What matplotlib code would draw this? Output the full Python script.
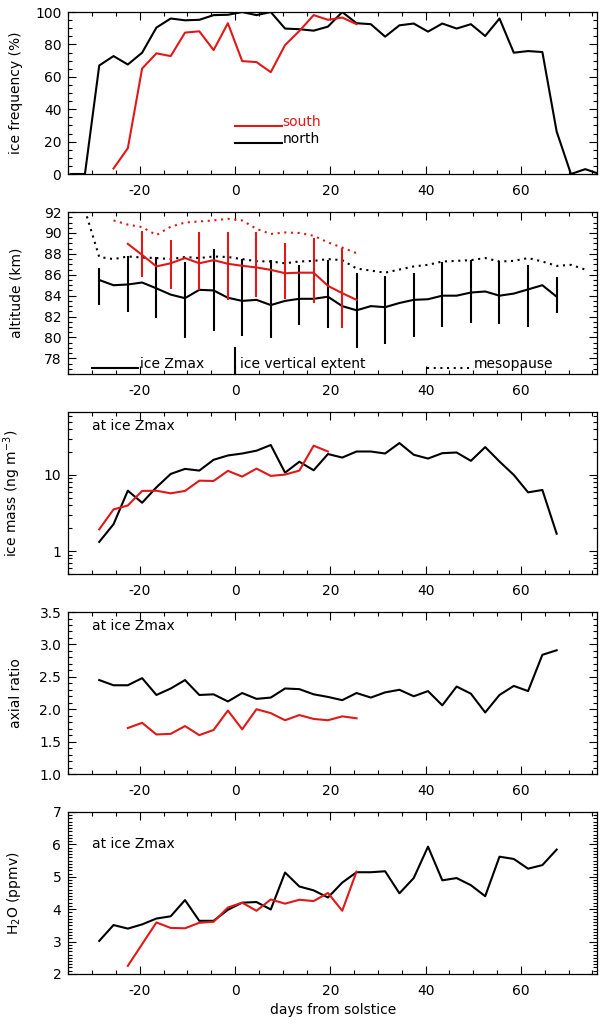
import matplotlib
matplotlib.use("Agg")
import matplotlib.pyplot as plt
from matplotlib.ticker import MultipleLocator, FixedLocator, LogLocator, NullFormatter, FormatStrFormatter

plt.rcParams["font.family"] = ["DejaVu Sans"]
plt.rcParams["axes.unicode_minus"] = False
plt.rcParams["mathtext.default"] = "regular"

RED = "#e01818"

# --- ice frequency ---
north_freq_days = [-34.5, -31.5, -28.5, -25.5, -22.5, -19.5, -16.5, -13.5, -10.5, -7.5, -4.5, -1.5,
                   1.5, 4.5, 7.5, 10.5, 13.5, 16.5, 19.5, 22.5, 25.5, 28.5, 31.5, 34.5, 37.5, 40.5,
                   43.5, 46.5, 49.5, 52.5, 55.5, 58.5, 61.5, 64.5, 67.5, 70.5, 73.5, 76.5]
north_freq = [0, 0, 67.0, 72.8, 67.6, 74.9, 90.4, 96.0, 94.9, 95.2, 98.1, 98.3,
              100, 98.1, 100, 89.8, 89.4, 88.5, 91.0, 100, 93.1, 92.5, 84.8, 91.8, 92.9, 87.9,
              92.9, 89.8, 92.5, 85.2, 96.0, 74.9, 75.9, 75.3, 26.2, 0, 3.0, 0]
south_freq_days = [-25.5, -22.5, -19.5, -16.5, -13.5, -10.5, -7.5, -4.5, -1.5, 1.5, 4.5, 7.5,
                   10.5, 13.5, 16.5, 19.5, 22.5, 25.5]
south_freq = [3.4, 15.9, 65.1, 74.5, 72.8, 87.3, 88.1, 76.5, 93.1, 69.7, 69.1, 62.9,
              79.6, 88.3, 98.1, 95.2, 96.6, 92.5]

# --- common day grids ---
north_days = [-28.5, -25.5, -22.5, -19.5, -16.5, -13.5, -10.5, -7.5, -4.5, -1.5, 1.5, 4.5,
              7.5, 10.5, 13.5, 16.5, 19.5, 22.5, 25.5, 28.5, 31.5, 34.5, 37.5, 40.5, 43.5,
              46.5, 49.5, 52.5, 55.5, 58.5, 61.5, 64.5, 67.5]
south_days = [-22.5, -19.5, -16.5, -13.5, -10.5, -7.5, -4.5, -1.5, 1.5, 4.5, 7.5, 10.5,
              13.5, 16.5, 19.5, 22.5, 25.5]

# --- altitude ---
north_zmax = [85.5, 85.0, 85.07, 85.26, 84.7, 84.1, 83.76, 84.56, 84.5, 83.8, 83.5, 83.6,
              83.1, 83.5, 83.7, 83.7, 83.9, 83.0, 82.6, 83.0, 82.9, 83.3, 83.6, 83.66, 84.0,
              84.0, 84.3, 84.4, 84.0, 84.2, 84.6, 85.0, 83.9]
north_bar_days = [-28.5, -22.5, -16.5, -10.5, -4.5, 1.5, 7.5, 13.5, 19.5, 25.5, 31.5, 37.5,
                  43.5, 49.5, 55.5, 61.5, 67.5]
north_bar_top = [86.63, 87.8, 87.7, 87.27, 88.45, 87.5, 87.43, 86.95, 87.43, 86.2, 85.9, 86.2,
                 87.27, 87.43, 87.34, 86.95, 85.83]
north_bar_bot = [83.12, 82.48, 81.84, 79.92, 80.66, 80.15, 79.92, 81.2, 80.95, 79.03, 79.38, 80.08,
                 81.04, 81.36, 81.27, 80.98, 82.32]
north_meso_days = [-31.5, -28.5, -25.5, -22.5, -19.5, -16.5, -13.5, -10.5, -7.5, -4.5, -1.5, 1.5,
                   4.5, 7.5, 10.5, 13.5, 16.5, 19.5, 22.5, 25.5, 28.5, 31.5, 34.5, 37.5, 40.5,
                   43.5, 46.5, 49.5, 52.5, 55.5, 58.5, 61.5, 64.5, 67.5, 70.5, 73.5]
north_meso = [92.2, 87.7, 87.5, 87.75, 87.65, 87.6, 87.5, 87.7, 87.6, 87.75, 87.7, 87.5,
              87.3, 87.27, 87.1, 87.27, 87.33, 87.5, 87.4, 86.6, 86.4, 86.2, 86.5, 86.8, 86.95,
              87.27, 87.33, 87.4, 87.6, 87.27, 87.33, 87.6, 87.27, 86.85, 86.95, 86.5]
south_zmax = [88.96, 87.9, 86.8, 87.1, 87.6, 87.1, 87.4, 87.05, 86.86, 86.7, 86.47, 86.15,
              86.2, 86.2, 84.94, 84.24, 83.6]
south_bar_days = [-19.5, -13.5, -7.5, -1.5, 4.5, 10.5, 16.5, 22.5]
south_bar_top = [90.15, 89.35, 90.1, 90.1, 90.1, 89.03, 89.5, 88.55]
south_bar_bot = [85.77, 84.62, 84.56, 83.6, 83.9, 83.7, 83.34, 80.88]
south_meso_days = [-25.5, -22.5, -19.5, -16.5, -13.5, -10.5, -7.5, -4.5, -1.5, 1.5, 4.5, 7.5,
                   10.5, 13.5, 16.5, 19.5, 22.5, 25.5]
south_meso = [91.2, 90.8, 90.56, 89.8, 90.6, 91.0, 91.1, 91.2, 91.36, 91.2, 90.4, 89.9,
              90.05, 90.0, 89.73, 89.1, 88.6, 88.07]

# --- ice mass ---
north_mass = [1.32, 2.25, 6.21, 4.31, 6.87, 10.3, 12.0, 11.4, 15.8, 18.0, 19.1, 20.8,
              24.7, 10.7, 14.9, 11.5, 18.8, 16.9, 20.3, 20.3, 19.1, 26.2, 18.4, 16.4, 19.3,
              19.7, 15.3, 23.2, 15.0, 10.0, 5.9, 6.34, 1.69]
south_mass_days = [-28.5, -25.5, -22.5, -19.5, -16.5, -13.5, -10.5, -7.5, -4.5, -1.5, 1.5, 4.5,
                   7.5, 10.5, 13.5, 16.5, 19.5]
south_mass = [1.93, 3.52, 3.97, 6.16, 6.2, 5.73, 6.16, 8.4, 8.33, 11.3, 9.5, 12.1,
              9.7, 10.1, 11.4, 24.2, 20.3]

# --- axial ratio ---
north_axial = [2.45, 2.37, 2.37, 2.48, 2.22, 2.32, 2.45, 2.22, 2.23, 2.12, 2.25, 2.16,
               2.18, 2.32, 2.31, 2.23, 2.19, 2.14, 2.25, 2.18, 2.26, 2.30, 2.20, 2.28, 2.06,
               2.35, 2.24, 1.95, 2.22, 2.36, 2.28, 2.84, 2.91]
south_axial = [1.71, 1.79, 1.61, 1.62, 1.74, 1.60, 1.68, 1.98, 1.69, 2.00, 1.94, 1.83,
               1.91, 1.85, 1.83, 1.89, 1.86]

# --- H2O ---
north_h2o = [3.02, 3.51, 3.40, 3.53, 3.71, 3.78, 4.28, 3.64, 3.64, 3.98, 4.20, 4.22,
             3.99, 5.13, 4.70, 4.58, 4.36, 4.82, 5.14, 5.14, 5.17, 4.49, 4.96, 5.93, 4.89,
             4.96, 4.74, 4.40, 5.62, 5.55, 5.25, 5.36, 5.84]
south_h2o_days = [-22.5, -16.5, -13.5, -10.5, -7.5, -4.5, -1.5, 1.5, 4.5, 7.5, 10.5, 13.5,
                  16.5, 19.5, 22.5, 25.5]
south_h2o = [2.25, 3.59, 3.42, 3.41, 3.58, 3.61, 4.05, 4.20, 3.95, 4.30, 4.17, 4.29,
             4.25, 4.50, 3.95, 5.16]

LW = 1.5
DOT = (0, (1, 2.2))
FS = 10

fig = plt.figure(figsize=(6.15, 10.29), dpi=100)
left, width, height = 0.111, 0.860, 0.1574
bottoms = [0.8309, 0.6365, 0.4422, 0.2478, 0.0535]
axes = [fig.add_axes([left, b, width, height]) for b in bottoms]


def style(ax):
    ax.set_xlim(-35, 76)
    ax.xaxis.set_major_locator(MultipleLocator(20))
    ax.xaxis.set_minor_locator(MultipleLocator(5))
    ax.tick_params(which="both", direction="in", top=True, right=True, labelsize=FS)
    ax.tick_params(which="major", length=6, width=0.8)
    ax.tick_params(which="minor", length=3, width=0.8)
    ax.tick_params(axis="x", pad=7)
    ax.tick_params(axis="y", pad=5)
    for sp in ax.spines.values():
        sp.set_linewidth(0.9)
    ax.yaxis.set_label_coords(-0.085, 0.5)


# panel 1: ice frequency
ax = axes[0]
ax.plot(north_freq_days, north_freq, color="black", lw=LW)
ax.plot(south_freq_days, south_freq, color=RED, lw=LW)
ax.set_ylim(0, 100)
ax.yaxis.set_major_locator(MultipleLocator(20))
ax.yaxis.set_minor_locator(MultipleLocator(5))
ax.plot([0, 9.8], [29.5, 29.5], color=RED, lw=LW)
ax.text(10, 29.5, "south", color=RED, fontsize=FS, va="baseline")
ax.plot([0, 9.8], [19.3, 19.3], color="black", lw=LW)
ax.text(10, 19.3, "north", color="black", fontsize=FS, va="baseline")
ax.set_ylabel("ice frequency (%)", fontsize=FS)
style(ax)

# panel 2: altitude
ax = axes[1]
ax.plot(north_meso_days, north_meso, color="black", lw=LW, linestyle=DOT)
ax.vlines(north_bar_days, north_bar_bot, north_bar_top, color="black", lw=LW)
ax.plot(north_days, north_zmax, color="black", lw=LW)
ax.plot(south_meso_days, south_meso, color=RED, lw=LW, linestyle=DOT)
ax.vlines(south_bar_days, south_bar_bot, south_bar_top, color=RED, lw=LW)
ax.plot(south_days, south_zmax, color=RED, lw=LW)
ax.set_ylim(76.5, 92)
ax.yaxis.set_major_locator(FixedLocator([78, 80, 82, 84, 86, 88, 90, 92]))
ax.yaxis.set_minor_locator(MultipleLocator(0.5))
ax.plot([-30, -20.3], [77.05, 77.05], color="black", lw=LW)
ax.text(-20.0, 77.05, "ice Zmax", fontsize=FS, va="baseline")
ax.plot([0, 0], [76.5, 78.95], color="black", lw=LW)
ax.text(1.0, 77.05, "ice vertical extent", fontsize=FS, va="baseline")
ax.plot([40.2, 49.5], [77.05, 77.05], color="black", lw=LW, linestyle=DOT)
ax.text(50.0, 77.05, "mesopause", fontsize=FS, va="baseline")
ax.set_ylabel("altitude (km)", fontsize=FS)
style(ax)

# panel 3: ice mass
ax = axes[2]
ax.plot(north_days, north_mass, color="black", lw=LW)
ax.plot(south_mass_days, south_mass, color=RED, lw=LW)
ax.set_yscale("log")
ax.set_ylim(0.5, 67)
ax.yaxis.set_major_locator(FixedLocator([1, 10]))
ax.yaxis.set_major_formatter(FormatStrFormatter("%g"))
ax.yaxis.set_minor_locator(LogLocator(base=10, subs=(2, 3, 4, 5, 6, 7, 8, 9)))
ax.yaxis.set_minor_formatter(NullFormatter())
ax.text(0.045, 0.915, "at ice Zmax", transform=ax.transAxes, fontsize=FS, va="center")
ax.set_ylabel("ice mass (ng m$^{-3}$)", fontsize=FS)
style(ax)

# panel 4: axial ratio
ax = axes[3]
ax.plot(north_days, north_axial, color="black", lw=LW)
ax.plot(south_days, south_axial, color=RED, lw=LW)
ax.set_ylim(1.0, 3.5)
ax.yaxis.set_major_locator(MultipleLocator(0.5))
ax.yaxis.set_minor_locator(MultipleLocator(0.1))
ax.yaxis.set_major_formatter(FormatStrFormatter("%.1f"))
ax.text(0.045, 0.915, "at ice Zmax", transform=ax.transAxes, fontsize=FS, va="center")
ax.set_ylabel("axial ratio", fontsize=FS)
style(ax)

# panel 5: H2O
ax = axes[4]
ax.plot(north_days, north_h2o, color="black", lw=LW)
ax.plot(south_h2o_days, south_h2o, color=RED, lw=LW)
ax.set_ylim(2, 7)
ax.yaxis.set_major_locator(MultipleLocator(1))
ax.yaxis.set_minor_locator(MultipleLocator(0.1))
ax.text(0.045, 0.80, "at ice Zmax", transform=ax.transAxes, fontsize=FS, va="center")
ax.set_ylabel("H$_2$O (ppmv)", fontsize=FS)
ax.set_xlabel("days from solstice", fontsize=FS)
style(ax)

fig.savefig("out.png", dpi=100)
